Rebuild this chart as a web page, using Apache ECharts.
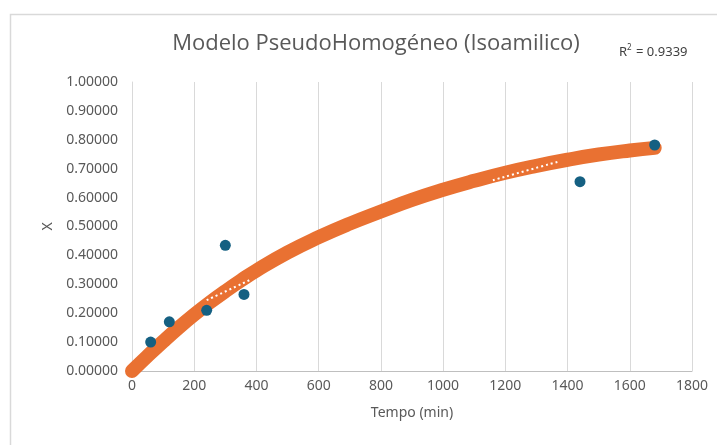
<!DOCTYPE html>
<html>
<head>
<meta charset="utf-8">
<script src="https://cdn.jsdelivr.net/npm/echarts@6/dist/echarts.min.js"></script>
<style>
html,body{margin:0;padding:0;background:#fff;}
#c{width:717px;height:445px;}
</style>
</head>
<body>
<div id="c"></div>
<script>
// Observed data (scatter)
var obsTime = [60, 120, 240, 300, 360, 1440, 1680];
var obsX    = [0.10, 0.17, 0.21, 0.435, 0.265, 0.655, 0.782];

// Model curve
var modelTime = [0, 50, 100, 150, 200, 250, 300, 350, 400, 500, 600, 700, 800, 900, 1000, 1100, 1200, 1300, 1400, 1500, 1600, 1680];
var modelX    = [0, 0.052, 0.102, 0.150, 0.195, 0.237, 0.276, 0.313, 0.348, 0.410, 0.463, 0.510, 0.552, 0.592, 0.627, 0.658, 0.686, 0.710, 0.731, 0.749, 0.763, 0.772];

// Visible pieces of the dotted trendline
var trendTime = [240, 300, 385, null, 1160, 1270, 1376];
var trendX    = [0.245, 0.275, 0.318, null, 0.660, 0.694, 0.726];

var xTicks = [0, 200, 400, 600, 800, 1000, 1200, 1400, 1600, 1800];
var yTicks = [0, 0.1, 0.2, 0.3, 0.4, 0.5, 0.6, 0.7, 0.8, 0.9, 1.0];

var titleText = 'Modelo PseudoHomogéneo (Isoamilico)';
var r2Value = '0.9339';

function zip(a, b) { return a.map(function (v, i) { return v === null ? [null, null] : [v, b[i]]; }); }

var chart = echarts.init(document.getElementById('c'), null, {renderer: 'canvas'});
var font = '"Noto Sans", "Open Sans", sans-serif';
chart.setOption({
  animation: false,
  backgroundColor: '#ffffff',
  graphic: [{
    type: 'rect', left: 8, top: 12, z: -1,
    shape: {x: 0, y: 0, width: 740, height: 460},
    style: {fill: 'none', stroke: '#d9d9d9', lineWidth: 1.5}
  }],
  title: [{
    text: titleText, left: 371, top: 28, textAlign: 'center',
    textStyle: {fontFamily: '"Open Sans", sans-serif', fontSize: 22, fontWeight: 'normal', color: '#595959'}
  }, {
    text: '{a|R}{s|2}{a| = ' + r2Value + '}', left: 614, top: 39,
    textStyle: {
      fontWeight: 'normal',
      rich: {
        a: {fontFamily: font, fontSize: 13, fontWeight: 'normal', color: '#404040'},
        s: {fontFamily: font, fontSize: 8, fontWeight: 'normal', color: '#404040', verticalAlign: 'top', padding: [0, 1, 8, 0]}
      }
    }
  }],
  grid: {left: 132, right: 25, top: 82, bottom: 74, containLabel: false},
  xAxis: {
    type: 'value', min: 0, max: 1800, interval: 200,
    name: 'Tempo (min)', nameLocation: 'middle', nameGap: 35,
    nameTextStyle: {fontFamily: font, fontSize: 14, color: '#595959'},
    axisLine: {show: true, lineStyle: {color: '#bfbfbf', width: 1}},
    axisTick: {show: false},
    axisLabel: {fontFamily: font, fontSize: 14, color: '#595959', margin: 8,
      formatter: function (v) { return String(v); }},
    splitLine: {show: true, lineStyle: {color: '#d9d9d9', width: 1}}
  },
  yAxis: {
    type: 'value', min: 0, max: 1, interval: 0.1,
    name: 'X', nameLocation: 'middle', nameGap: 28, nameRotate: 90,
    nameTextStyle: {fontFamily: font, fontSize: 14, color: '#595959'},
    axisLine: {show: true, lineStyle: {color: '#d9d9d9', width: 1}},
    axisTick: {show: false},
    axisLabel: {fontFamily: font, fontSize: 14, color: '#595959', margin: 14,
      formatter: function (v) { return v.toFixed(5); }},
    splitLine: {show: false}
  },
  series: [{
    name: 'Modelo', type: 'line', data: zip(modelTime, modelX),
    smooth: true, showSymbol: false, symbol: 'none',
    lineStyle: {color: '#E97132', width: 14, cap: 'round', join: 'round'},
    z: 2
  }, {
    name: 'Tendencia', type: 'line', data: zip(trendTime, trendX),
    smooth: true, showSymbol: false, symbol: 'none', connectNulls: false,
    lineStyle: {color: '#ffffff', width: 2, type: [2, 3]},
    z: 3
  }, {
    name: 'Experimental', type: 'scatter', data: zip(obsTime, obsX),
    symbol: 'circle', symbolSize: 11,
    itemStyle: {color: '#156082', opacity: 1},
    z: 4
  }]
});
</script>
</body>
</html>
